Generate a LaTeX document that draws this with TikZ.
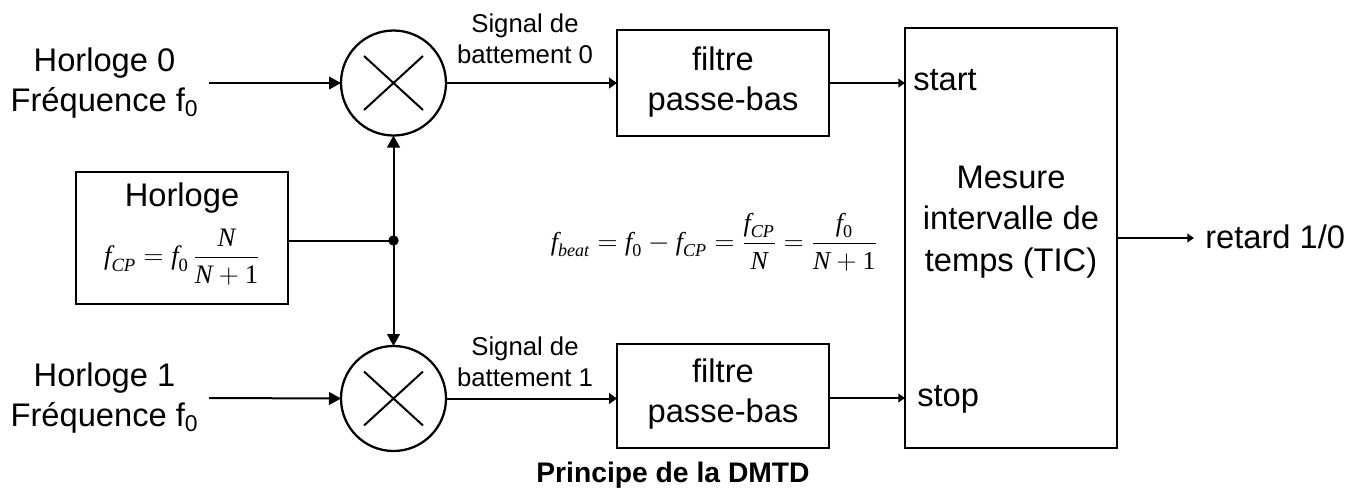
\documentclass[tikz,border=0pt]{standalone}
\usepackage{fontspec}
\usepackage{amsmath}
\setmainfont{Liberation Sans}
\usetikzlibrary{arrows.meta}
\newfontfamily\tms{Liberation Serif}
\newcommand{\vi}[1]{\text{\tms\itshape #1}}
\newcommand{\vr}[1]{\text{\tms #1}}
\tikzset{x=0.75pt,y=-0.75pt,
 blockbox/.style={draw=black,line width=1.8pt,fill=white,inner sep=0pt,outer sep=0pt,align=center},
 mixer/.style={draw=black,line width=1.7pt,circle,minimum size=78.75pt,inner sep=0pt,outer sep=0pt,
   path picture={\draw[line width=1.5pt] ([shift={(-29.5,-27)}]path picture bounding box.center) -- ([shift={(29.5,27)}]path picture bounding box.center);
   \draw[line width=1.5pt] ([shift={(-29.5,27)}]path picture bounding box.center) -- ([shift={(29.5,-27)}]path picture bounding box.center);}},
 conn/.style={line width=1.5pt,-{Triangle[length=9pt,width=9.5pt]}},
 connsm/.style={line width=1.5pt,-{Triangle[length=6pt,width=8pt]}},
 conntiny/.style={line width=1.5pt,-{Triangle[length=5pt,width=6.5pt]}},
 wire/.style={line width=1.5pt},
 lab/.style={inner sep=0pt,align=center,font=\fontsize{24.5pt}{30pt}\selectfont},
 labw/.style={inner sep=0pt,align=center,font=\fontsize{24.5pt}{31pt}\selectfont},
 sm/.style={inner sep=0pt,align=center,font=\fontsize{19.3pt}{23.3pt}\selectfont}}
\begin{document}
\begin{tikzpicture}
\useasboundingbox (0,0) rectangle (1364,487);
\node[blockbox,minimum width=159pt,minimum height=79.5pt] (f0) at (723,83) {};
\node[lab] at (723,82.5) {filtre\\passe-bas};
\node[blockbox,minimum width=159pt,minimum height=78pt] (f1) at (723,396) {};
\node[lab] at (723,394.5) {filtre\\passe-bas};
\node[blockbox,minimum width=159pt,minimum height=315pt] (tic) at (1011,238) {};
\node[labw] at (1011,222) {Mesure\\intervalle de\\temps (TIC)};
\node[blockbox,minimum width=159pt,minimum height=99pt] (h) at (182,238) {};
\node[lab] at (182,198) {Horloge};
\node[inner sep=0pt] at (182,257) {\fontsize{20pt}{24pt}\selectfont $\vi{f}_{\vi{CP}}=\vi{f}_{\vr{0}}\,\dfrac{\vi{N}}{\vi{N}+\vr{1}}$};
\node[mixer] (m0) at (393.5,83) {};
\node[mixer] (m1) at (393.5,398.5) {};
\node[lab] (h0) at (104.5,83) {Horloge 0\\Fréquence f$_{\text{0}}$};
\node[lab] (h1) at (104.5,398.5) {Horloge 1\\Fréquence f$_{\text{0}}$};
\coordinate (h0e) at (209,83);
\coordinate (h1e) at (209,398);
\draw[conn] (h0e) -- (m0.west);
\draw[conn] (h1e) -- (m1.west);
\coordinate (j) at (393.5,240.5);
\draw[wire] (h.east |- j) -- (j);
\fill (j) circle (5.2);
\draw[conn] (j) -- (m0.south);
\draw[conn] (j) -- (m1.north);
\draw[connsm] (m0.east) -- (f0.west |- m0.east);
\draw[connsm] (m1.east) -- (f1.west |- m1.east);
\coordinate (ts) at (905,83);
\coordinate (te) at (905,398);
\draw[conntiny] (f0.east) -- (ts);
\draw[conntiny] (f1.east |- te) -- (te);
\node[lab,anchor=base west] (st) at (913,90) {start};
\node[lab,anchor=base west] (sp) at (917,406) {stop};
\coordinate (r) at (1194,238);
\draw[conntiny] (tic.east |- r) -- (r);
\node[lab,anchor=base west] (ret) at (1205,248.5) {retard 1/0};
\node[sm] at (525,39) {Signal de\\battement 0};
\node[sm] at (525,362) {Signal de\\battement 1};
\node[inner sep=0pt] at (714,242) {\fontsize{19.4pt}{23pt}\selectfont $\vi{f}_{\vi{beat}}=\vi{f}_{\vr{0}}-\vi{f}_{\vi{CP}}=\dfrac{\vi{f}_{\vi{CP}}}{\vi{N}}=\dfrac{\vi{f}_{\vr{0}}}{\vi{N}+\vr{1}}$};
\node[inner sep=0pt,anchor=base,font=\bfseries\fontsize{21.2pt}{26pt}\selectfont] at (673,482.5) {Principe de la DMTD};
\end{tikzpicture}
\end{document}
